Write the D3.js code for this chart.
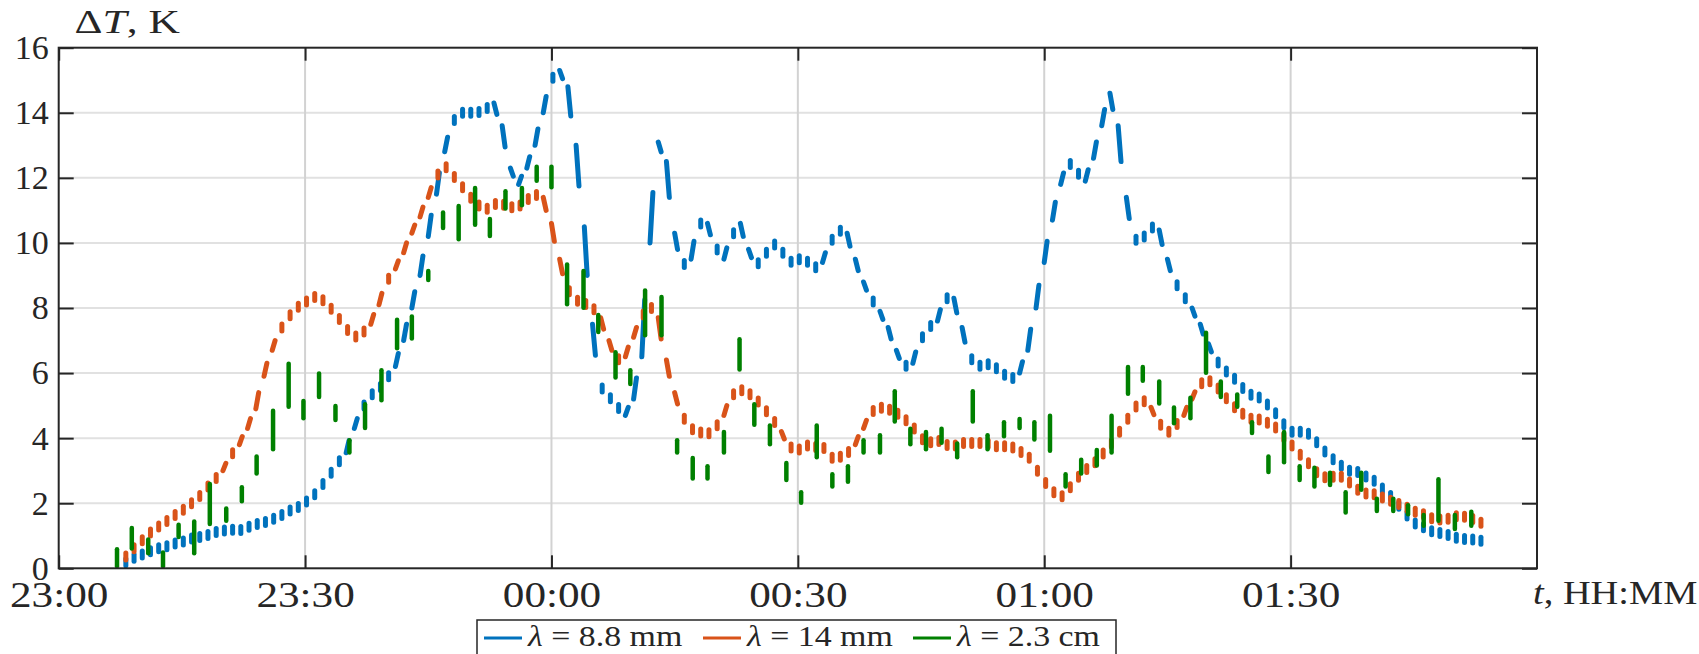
<!DOCTYPE html>
<html>
<head>
<meta charset="utf-8">
<script src="https://cdn.jsdelivr.net/npm/d3@7"></script>
<style>
  body { margin: 0; background: #fff; }
  svg text { font-family: "Liberation Serif", "Times New Roman", serif; fill: #262626; }
</style>
</head>
<body>
<div id="chart"></div>
<script>
// minutes after 23:00, one blue / orange value per minute
var blueStart = 8;
var blueVals = [
  0.15, 0.3, 0.4, 0.5, 0.6, 0.65, 0.75, 0.8, 0.9, 0.95,
  1.0, 1.1, 1.15, 1.2, 1.15, 1.25, 1.35, 1.4, 1.5, 1.6,
  1.75, 1.85, 2.0, 2.2, 2.5, 2.85, 3.2, 3.55, 4.3, 4.9,
  5.3, 5.5, 5.8, 6.2, 7.0, 8.0, 9.0, 10.2, 11.5, 12.8,
  13.7, 14.0, 14.0, 14.0, 14.1, 14.3, 13.6, 12.3, 11.8, 12.3,
  13.0, 14.0, 15.0, 15.3, 14.8, 13.0, 10.5, 7.5, 5.6, 5.3,
  5.0, 4.7, 5.2, 6.5, 10.0, 13.1, 12.5, 10.3, 9.3, 9.5,
  10.6, 10.6, 9.9, 9.5, 10.2, 10.6, 9.8, 9.3, 9.6, 10.0,
  9.8, 9.4, 9.5, 9.5, 9.2, 9.4, 10.0, 10.4, 10.3, 9.5,
  8.8, 8.3, 7.9, 7.4, 6.7, 6.2, 6.3, 7.0, 7.4, 7.6,
  8.3, 8.3, 7.4, 6.5, 6.2, 6.3, 6.2, 6.0, 5.8, 6.0,
  6.7, 8.0, 9.4, 10.7, 11.8, 12.5, 12.2, 11.9, 12.6, 13.6,
  14.6, 13.6, 11.4, 10.1, 10.1, 10.5, 10.4, 9.5, 8.8, 8.4,
  8.0, 7.5, 6.9, 6.4, 6.1, 5.9, 5.6, 5.35, 5.3, 5.1,
  4.85, 4.5, 4.2, 4.2, 4.2, 3.95, 3.65, 3.4, 3.2, 3.0,
  3.0, 2.85, 2.75, 2.5, 2.3, 2.0, 1.7, 1.4, 1.3, 1.15,
  1.1, 1.05, 0.95, 0.9, 0.9, 0.85
];

var orangeStart = 8;
var orangeVals = [
  0.3, 0.55, 0.8, 1.05, 1.25, 1.4, 1.6, 1.75, 1.95, 2.15,
  2.45, 2.7, 3.0, 3.45, 3.8, 4.3, 4.9, 5.9, 6.7, 7.3,
  7.7, 8.0, 8.15, 8.35, 8.3, 8.05, 7.75, 7.4, 7.1, 7.2,
  7.5, 8.1, 8.8, 9.2, 9.7, 10.3, 10.8, 11.4, 12.0, 12.4,
  12.1, 11.8, 11.45, 11.2, 11.0, 11.2, 11.2, 11.1, 11.1, 11.3,
  11.5, 11.4, 10.6, 9.5, 8.6, 8.25, 8.15, 8.05, 7.7, 7.0,
  6.4, 6.5, 7.1, 7.7, 8.1, 7.7, 6.4, 5.4, 4.7, 4.3,
  4.2, 4.1, 4.3, 4.7, 5.3, 5.5, 5.4, 5.2, 4.9, 4.6,
  4.2, 3.75, 3.6, 3.8, 3.7, 3.8, 3.4, 3.4, 3.5, 3.8,
  4.3, 4.8, 4.95, 4.9, 4.8, 4.6, 4.4, 4.0, 3.85, 3.95,
  3.8, 3.75, 3.85, 3.85, 3.85, 3.85, 3.75, 3.75, 3.75, 3.6,
  3.5, 3.1, 2.7, 2.4, 2.15, 2.4, 2.75, 3.0, 3.2, 3.45,
  3.75, 4.1, 4.5, 4.9, 5.2, 4.95, 4.5, 4.15, 4.35, 4.7,
  5.2, 5.65, 5.8, 5.6, 5.3, 5.0, 4.8, 4.6, 4.6, 4.5,
  4.4, 4.1, 3.85, 3.55, 3.3, 3.0, 2.8, 2.8, 2.85, 2.7,
  2.45, 2.3, 2.3, 2.2, 2.1, 2.0, 1.9, 1.75, 1.7, 1.55,
  1.5, 1.5, 1.6, 1.6, 1.55, 1.4
];

// green (2.3 cm) is noisy: each stroke spans lo..hi at time t
var greenT = [
  7.1, 8.9, 10.9, 12.7, 14.6, 16.5, 18.4, 20.4, 22.3, 24.1, 26.1, 28.0, 29.8, 31.7, 33.7, 35.4,
  37.3, 39.3, 41.2, 43.0, 45.0, 46.8, 48.7, 50.7, 52.5, 54.4, 56.4, 58.2, 60.0, 61.9, 63.9, 65.7,
  67.8, 69.6, 71.4, 73.4, 75.3, 77.2, 79.0, 81.0, 82.9, 84.7, 86.6, 88.6, 90.4, 92.3, 94.2, 96.1,
  98.0, 100.0, 101.8, 103.7, 105.6, 107.5, 109.4, 111.3, 113.1, 115.1, 117.0, 118.8, 120.7, 122.6, 124.5, 126.4,
  128.2, 130.2, 132.0, 134.0, 135.8, 137.8, 139.7, 141.5, 143.5, 145.3, 147.3, 149.2, 151.1,
  152.9, 154.8, 156.7, 158.6, 160.5, 162.5, 164.3, 166.2, 168.0, 170.0, 172.0
];
var greenLo = [
  0, 0.55, 0.4, 0, 0.9, 0.4, 1.3, 1.4, 2.0, 2.85, 3.6, 4.9, 4.55, 5.2, 4.5, 3.5,
  4.25, 5.1, 6.7, 7.0, 8.8, 10.4, 10.05, 10.5, 10.15, 11.0, 11.1, 11.85, 11.65, 8.05, 7.95, 7.2,
  5.8, 5.6, 7.1, 7.1, 3.5, 2.7, 2.7, 3.5, 6.05, 4.35, 3.75, 2.65, 1.95, 3.35, 2.45, 2.6,
  3.5, 3.5, 4.45, 3.75, 3.6, 3.8, 3.35, 4.45, 3.6, 4.0, 4.25, 3.9, 3.55, 2.45, 2.85, 3.1,
  3.5, 5.3, 5.7, 5.0, 4.4, 4.55, 5.95, 5.2, 4.9, 4.1, 2.9, 3.2, 2.65,
  2.45, 2.5, 1.65, 2.35, 1.7, 1.7, 1.6, 1.25, 1.4, 1.15, 1.25
];
var greenHi = [
  0.65, 1.3, 0.95, 0.55, 1.4, 1.5, 2.65, 1.9, 2.55, 3.5, 4.9, 6.35, 5.2, 6.05, 5.05, 4.0,
  5.1, 6.15, 7.7, 7.8, 9.2, 11.0, 11.2, 11.75, 10.8, 11.65, 11.75, 12.4, 12.4, 9.4, 9.2, 7.85,
  6.7, 6.15, 8.6, 8.4, 4.0, 3.45, 3.2, 4.25, 7.1, 5.1, 4.45, 3.3, 2.4, 4.45, 2.95, 3.2,
  4.0, 4.15, 5.5, 4.35, 4.25, 4.35, 3.9, 5.5, 4.15, 4.55, 4.65, 4.55, 4.75, 2.95, 3.4, 3.7,
  4.75, 6.25, 6.25, 5.8, 5.0, 5.3, 7.3, 5.8, 5.4, 4.55, 3.5, 4.25, 3.2,
  3.15, 3.0, 2.4, 3.0, 2.2, 2.2, 2.0, 1.7, 2.8, 1.7, 1.8
];

var xTickMin = [0, 30, 60, 90, 120, 150];
var xTickLabels = ['23:00', '23:30', '00:00', '00:30', '01:00', '01:30'];
var yTicks = [0, 2, 4, 6, 8, 10, 12, 14, 16];
var legendNames = ['8.8 mm', '14 mm', '2.3 cm'];
var colors = ['#0072BD', '#D95319', '#008000'];

var W = 1699, H = 654;
var margin = {top: 47.7, right: 162, bottom: 85.7, left: 58.7};
var width = W - margin.left - margin.right,
    height = H - margin.top - margin.bottom;

var svg = d3.select('#chart').append('svg')
    .attr('width', W).attr('height', H);
var g = svg.append('g')
    .attr('transform', 'translate(' + margin.left + ',' + margin.top + ')');

var x = d3.scaleLinear().domain([0, 180]).range([0, width]);
var y = d3.scaleLinear().domain([0, 16]).range([height, 0]);

// grid
g.append('g').selectAll('line').data(yTicks.slice(1, -1)).enter().append('line')
    .attr('x1', 0).attr('x2', width)
    .attr('y1', function(d) { return y(d); }).attr('y2', function(d) { return y(d); })
    .attr('stroke', '#e1e1e1').attr('stroke-width', 2);
g.append('g').selectAll('line').data(xTickMin.slice(1)).enter().append('line')
    .attr('y1', 0).attr('y2', height)
    .attr('x1', function(d) { return x(d); }).attr('x2', function(d) { return x(d); })
    .attr('stroke', '#d2d2d2').attr('stroke-width', 2);

// dashed look: each sample gives a short stroke toward the next one
function dashes(start, vals) {
  var out = [];
  for (var i = 0; i < vals.length; i++) {
    var t = start + i, v0 = vals[i];
    var v1 = i < vals.length - 1 ? v0 + 0.5 * (vals[i + 1] - v0) : v0;
    var x0 = x(t), x1 = x(t + 0.35), y0 = y(v0), y1 = y(v1);
    if (Math.abs(y1 - y0) < 7) {
      var ym = (y0 + y1) / 2, xm = (x0 + x1) / 2;
      x0 = xm; x1 = xm; y0 = ym + 3.5; y1 = ym - 3.5;
    }
    out.push({x0: x0, y0: y0, x1: x1, y1: y1});
  }
  return out;
}

function drawDashes(segs, color) {
  g.append('g').selectAll('line').data(segs).enter().append('line')
      .attr('x1', function(d) { return d.x0; }).attr('y1', function(d) { return d.y0; })
      .attr('x2', function(d) { return d.x1; }).attr('y2', function(d) { return d.y1; })
      .attr('stroke', color).attr('stroke-width', 5).attr('stroke-linecap', 'round');
}

drawDashes(dashes(blueStart, blueVals), colors[0]);
drawDashes(dashes(orangeStart, orangeVals), colors[1]);

g.append('g').selectAll('line').data(greenT).enter().append('line')
    .attr('x1', function(d) { return x(d); }).attr('x2', function(d) { return x(d); })
    .attr('y1', function(d, i) { return y(greenLo[i]) - 2; })
    .attr('y2', function(d, i) { return y(greenHi[i]) + 2; })
    .attr('stroke', colors[2]).attr('stroke-width', 4.5).attr('stroke-linecap', 'round');

// axes, ticks inside on all four sides
function styleAxis(sel) {
  sel.select('.domain').remove();
  sel.selectAll('.tick line').attr('stroke', '#262626').attr('stroke-width', 2);
}

var xAxis = g.append('g').attr('transform', 'translate(0,' + height + ')')
    .call(d3.axisBottom(x).tickValues(xTickMin)
      .tickFormat(function(d, i) { return xTickLabels[i]; })
      .tickSizeInner(-13).tickSizeOuter(0).tickPadding(13));
xAxis.call(styleAxis);
xAxis.selectAll('text').attr('font-size', 36).attr('transform', 'scale(1.2,1)');

g.append('g')
    .call(d3.axisTop(x).tickValues(xTickMin).tickFormat('').tickSizeInner(-13).tickSizeOuter(0))
    .call(styleAxis);

var yAxis = g.append('g')
    .call(d3.axisLeft(y).tickValues(yTicks).tickSizeInner(-15).tickSizeOuter(0).tickPadding(10));
yAxis.call(styleAxis);
yAxis.selectAll('text').attr('font-size', 34);

g.append('g').attr('transform', 'translate(' + width + ',0)')
    .call(d3.axisRight(y).tickValues(yTicks).tickFormat('').tickSizeInner(-15).tickSizeOuter(0))
    .call(styleAxis);

g.append('rect').attr('width', width).attr('height', height)
    .attr('fill', 'none').attr('stroke', '#262626').attr('stroke-width', 2);

// axis titles
var yt = svg.append('text').attr('font-size', 34)
    .attr('transform', 'translate(74.6,33) scale(1.28,1)');
yt.append('tspan').text('\u0394');
yt.append('tspan').attr('font-style', 'italic').text('T');
yt.append('tspan').text(', K');

var xt = svg.append('text').attr('font-size', 34)
    .attr('transform', 'translate(1533,604) scale(1.13,1)');
xt.append('tspan').attr('font-style', 'italic').text('t');
xt.append('tspan').text(', HH:MM');

// legend (box runs off the bottom edge, as in the figure)
var lg = svg.append('g');
lg.append('rect').attr('x', 477).attr('y', 620).attr('width', 639).attr('height', 50)
    .attr('fill', '#fff').attr('stroke', '#262626').attr('stroke-width', 1.5);
var legX = [484, 703, 913];
legendNames.forEach(function(name, i) {
  lg.append('line').attr('x1', legX[i]).attr('x2', legX[i] + 38)
      .attr('y1', 638).attr('y2', 638)
      .attr('stroke', colors[i]).attr('stroke-width', 3);
  var t = lg.append('text').attr('font-size', 30)
      .attr('transform', 'translate(' + (legX[i] + 44) + ',646) scale(1.13,1)');
  t.append('tspan').attr('font-style', 'italic').text('\u03bb');
  t.append('tspan').text(' = ' + name);
});
</script>
</body>
</html>
